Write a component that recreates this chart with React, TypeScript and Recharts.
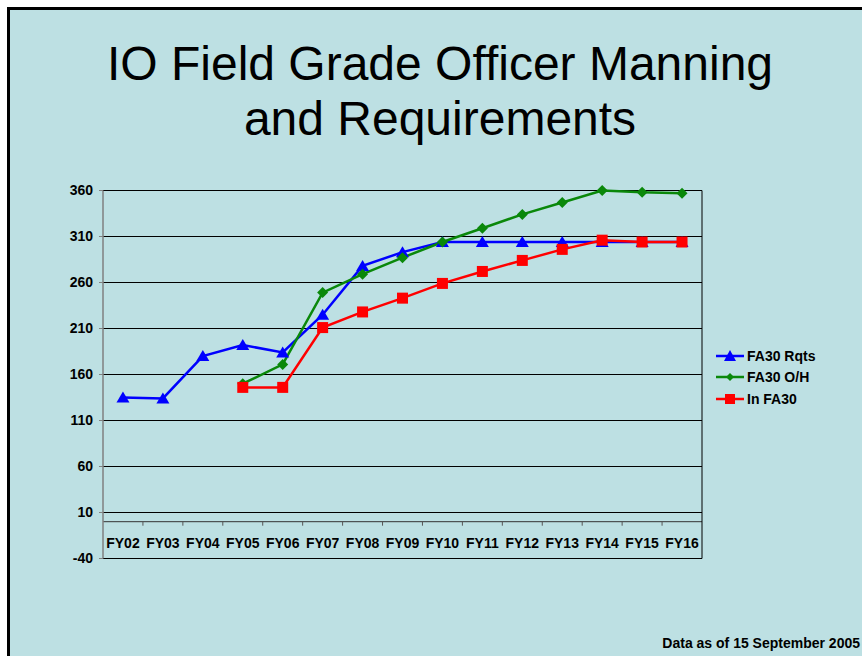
import { LineChart, Line, XAxis, YAxis, CartesianGrid, ReferenceLine } from 'recharts';

const categories = ['FY02', 'FY03', 'FY04', 'FY05', 'FY06', 'FY07', 'FY08', 'FY09', 'FY10', 'FY11', 'FY12', 'FY13', 'FY14', 'FY15', 'FY16'];
const fa30Rqts = [135, 134, 180, 192, 184, 225, 278, 293, 304, 304, 304, 304, 304, 304, 304];
const fa30OnHand = [null, null, null, 150, 171, 249, 269, 287, 304, 319, 334, 347, 360, 358, 357];
const inFa30 = [null, null, null, 146, 146, 211, 228, 243, 259, 272, 284, 296, 306, 304, 304];
const yTicks = [-40, 10, 60, 110, 160, 210, 260, 310, 360];
const seriesNames = ['FA30 Rqts', 'FA30 O/H', 'In FA30'];

const data = categories.map((name, i) => ({
  name,
  rqts: fa30Rqts[i],
  onHand: fa30OnHand[i],
  inFa30: inFa30[i],
}));

const FONT = '"Liberation Sans", Arial, sans-serif';
const CHART_W = 862;
const CHART_H = 656;
// half-pixel top/bottom so 1px grid lines land on whole pixels
const margin = { top: 190.5, right: 159, bottom: 67.5, left: 43 };
const Y_AXIS_W = 60;
const X_AXIS_H = 30;
const plotW = CHART_W - margin.left - margin.right - Y_AXIS_W - 1;
const plotH = CHART_H - margin.top - margin.bottom - X_AXIS_H;
const pxPerUnit = plotH / (yTicks[yTicks.length - 1] - yTicks[0]);
const bandW = plotW / categories.length;

const BLUE = '#0000ff';
const GREEN = '#0a880a';
const RED = '#ff0000';

function Triangle({ cx, cy, value, color }: any) {
  if (cx == null || cy == null || value == null) return <g />;
  return <polygon points={`${cx},${cy - 6} ${cx - 6.5},${cy + 5} ${cx + 6.5},${cy + 5}`} fill={color} />;
}

function Diamond({ cx, cy, value, color }: any) {
  if (cx == null || cy == null || value == null) return <g />;
  return <polygon points={`${cx},${cy - 5.5} ${cx + 5.5},${cy} ${cx},${cy + 5.5} ${cx - 5.5},${cy}`} fill={color} />;
}

function Square({ cx, cy, value, color }: any) {
  if (cx == null || cy == null || value == null) return <g />;
  return <rect x={cx - 5.5} y={cy - 5.5} width={11} height={11} fill={color} />;
}

function CategoryTick({ x, y, payload, index }: any) {
  const zeroY = y - (0 - yTicks[0]) * pxPerUnit;
  return (
    <g>
      {index < categories.length - 1 && (
        <line x1={x + bandW / 2} x2={x + bandW / 2} y1={zeroY} y2={zeroY + 4} stroke="#555" strokeWidth={1} />
      )}
      <text x={x} y={y - 11} textAnchor="middle" fontFamily={FONT} fontSize={14} fontWeight="bold" fill="#000">
        {payload.value}
      </text>
    </g>
  );
}

function LegendIcon({ index }: { index: number }) {
  const colors = [BLUE, GREEN, RED];
  const c = colors[index];
  return (
    <svg width={30} height={14} style={{ display: 'block' }}>
      <line x1={0} x2={28} y1={7} y2={7} stroke={c} strokeWidth={2.5} />
      {index === 0 && <polygon points="14,1 8,12 20,12" fill={c} />}
      {index === 1 && <polygon points="14,3 18,7 14,11 10,7" fill={c} />}
      {index === 2 && <rect x={9} y={2} width={10} height={10} fill={c} />}
    </svg>
  );
}

export default function App() {
  return (
    <div style={{ position: 'absolute', left: 0, top: 0, width: 862, height: 656, background: '#fff', overflow: 'hidden', fontFamily: FONT }}>
      <div
        style={{
          position: 'absolute',
          left: 7,
          top: 7,
          width: 855,
          height: 649,
          boxSizing: 'border-box',
          background: '#bde0e3',
          borderLeft: '3px solid #000',
          borderTop: '3px solid #000',
        }}
      />
      <div style={{ position: 'absolute', left: 40, top: 36, width: 800, textAlign: 'center', fontSize: 48, lineHeight: '55px', color: '#000' }}>
        <div>IO Field Grade Officer Manning</div>
        <div>and Requirements</div>
      </div>

      <div style={{ position: 'absolute', left: 0, top: 0 }}>
        <LineChart width={CHART_W} height={CHART_H} data={data} margin={margin}>
          <CartesianGrid yAxisId="left" vertical={false} stroke="#000" strokeWidth={1} />
          <XAxis
            dataKey="name"
            height={X_AXIS_H}
            padding={{ left: bandW / 2, right: bandW / 2 }}
            axisLine={false}
            tickLine={false}
            tickSize={0}
            tickMargin={0}
            interval={0}
            tick={<CategoryTick />}
          />
          <YAxis
            yAxisId="left"
            width={Y_AXIS_W}
            domain={[-40, 360]}
            ticks={yTicks}
            interval={0}
            axisLine={{ stroke: '#808080', strokeWidth: 1.5 }}
            tickLine={{ stroke: '#808080' }}
            tickSize={4}
            tickMargin={6}
            tick={{ fill: '#000', fontSize: 14, fontWeight: 'bold', fontFamily: FONT }}
          />
          <YAxis
            yAxisId="right"
            orientation="right"
            width={1}
            domain={[-40, 360]}
            tick={false}
            tickLine={false}
            axisLine={{ stroke: '#000', strokeWidth: 1 }}
          />
          <ReferenceLine yAxisId="left" y={0} stroke="#333" strokeWidth={1} />
          <Line
            yAxisId="left"
            dataKey="rqts"
            name={seriesNames[0]}
            stroke={BLUE}
            strokeWidth={2.5}
            dot={<Triangle color={BLUE} />}
            isAnimationActive={false}
          />
          <Line
            yAxisId="left"
            dataKey="onHand"
            name={seriesNames[1]}
            stroke={GREEN}
            strokeWidth={2.5}
            dot={<Diamond color={GREEN} />}
            isAnimationActive={false}
          />
          <Line
            yAxisId="left"
            dataKey="inFa30"
            name={seriesNames[2]}
            stroke={RED}
            strokeWidth={2.5}
            dot={<Square color={RED} />}
            isAnimationActive={false}
          />
        </LineChart>
      </div>

      <div style={{ position: 'absolute', left: 716, top: 345 }}>
        {seriesNames.map((s, i) => (
          <div key={s} style={{ display: 'flex', alignItems: 'center', height: 21.5 }}>
            <LegendIcon index={i} />
            <span style={{ fontSize: 14, fontWeight: 'bold', marginLeft: 1 }}>{s}</span>
          </div>
        ))}
      </div>

      <div style={{ position: 'absolute', right: 2, top: 635, fontSize: 14, fontWeight: 'bold' }}>Data as of 15 September 2005</div>
    </div>
  );
}
